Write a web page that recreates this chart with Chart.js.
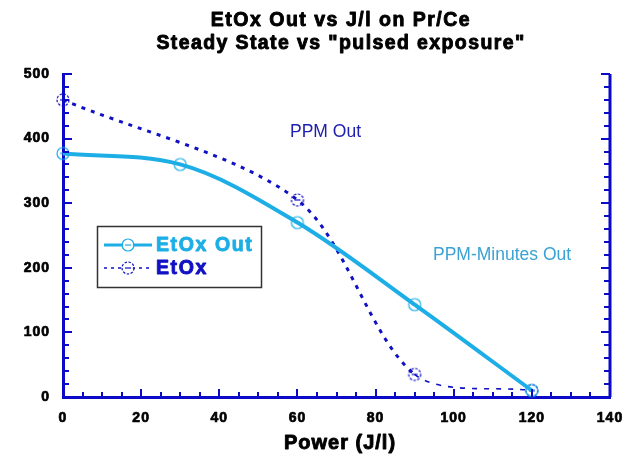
<!DOCTYPE html>
<html>
<head>
<meta charset="utf-8">
<script src="https://cdn.jsdelivr.net/npm/chart.js@4"></script>
<style>
  html, body { margin: 0; padding: 0; background: #fff; }
  #wrap { width: 629px; height: 454px; }
</style>
</head>
<body>
<div id="wrap"><canvas id="c" width="629" height="454"></canvas></div>
<script>
// Power (J/l) and EtOx readings
const powerSteady = [0, 30, 60, 90, 120];
const etoxOut = [377, 360, 270, 143, 10];
const powerPulsed = [0, 60, 90, 120];
const etox = [460, 305, 35, 10];
const xTicks = [0, 20, 40, 60, 80, 100, 120, 140];
const yTicks = [0, 100, 200, 300, 400, 500];
const titleLines = ['EtOx Out vs J/l on Pr/Ce', 'Steady State vs "pulsed exposure"'];

const AXIS_BLUE = '#0a0ac8';
const LIGHT_BLUE = '#1eaee6';
const DARK_BLUE = '#1010c4';
const FONT = '"Liberation Sans", Arial, sans-serif';

// heavy text: bold face, thickened with a thin stroke of the same colour
function heavyText(ctx, text, x, y, size, color, spacing, weight) {
  ctx.save();
  ctx.font = 'bold ' + size + 'px ' + FONT;
  ctx.letterSpacing = spacing + 'px';
  ctx.fillStyle = color;
  ctx.strokeStyle = color;
  ctx.lineWidth = weight;
  ctx.lineJoin = 'round';
  ctx.strokeText(text, x, y);
  ctx.fillText(text, x, y);
  ctx.restore();
}

// circle marker with a short bar through it
function marker(color, dashed) {
  const s = 16, c = document.createElement('canvas');
  c.width = s; c.height = s;
  const g = c.getContext('2d');
  g.strokeStyle = color; g.lineWidth = 1.2;
  if (dashed) g.setLineDash([2.5, 1.5]);
  g.beginPath(); g.arc(s / 2, s / 2, 6, 0, Math.PI * 2); g.stroke();
  g.setLineDash([]);
  g.beginPath(); g.moveTo(s / 2 - 3, s / 2); g.lineTo(s / 2 + 3, s / 2); g.stroke();
  return c;
}
const mLight = marker(LIGHT_BLUE, false);
const mDark = marker(DARK_BLUE, true);

const toPts = (xs, ys) => xs.map((x, i) => ({ x, y: ys[i] }));

// Inside tick marks, right axis, tick labels, title, legend box and notes
const decor = {
  id: 'decor',
  afterDraw(chart) {
    const { ctx, chartArea: a, scales: { x, y } } = chart;
    ctx.save();
    ctx.strokeStyle = AXIS_BLUE;
    ctx.lineWidth = 2;
    ctx.beginPath();
    for (let v = 0; v <= 140; v += 5) {
      const px = Math.round(x.getPixelForValue(v));
      const len = v % 20 === 0 ? 8 : 5;
      ctx.moveTo(px, a.bottom); ctx.lineTo(px, a.bottom - len);
    }
    for (let v = 0; v <= 500; v += 20) {
      const py = Math.round(y.getPixelForValue(v));
      const len = v % 100 === 0 ? 9 : 6;
      ctx.moveTo(a.left, py); ctx.lineTo(a.left + len, py);
      ctx.moveTo(a.right, py); ctx.lineTo(a.right - len, py);
    }
    ctx.stroke();
    ctx.lineWidth = 3;
    ctx.beginPath();
    ctx.moveTo(a.right, a.top); ctx.lineTo(a.right, a.bottom);
    ctx.stroke();

    // tick labels
    ctx.textBaseline = 'middle';
    ctx.textAlign = 'center';
    x.ticks.forEach(t => heavyText(ctx, String(t.value), x.getPixelForValue(t.value), 418, 14, '#000', 1, 0.7));
    ctx.textAlign = 'right';
    y.ticks.forEach(t => heavyText(ctx, String(t.value), 50, y.getPixelForValue(t.value), 14, '#000', 1, 0.7));

    // axis title
    ctx.textAlign = 'center';
    heavyText(ctx, 'Power (J/l)', 340, 443, 20, '#000', 1, 0.9);

    // title
    const cx = 341;
    heavyText(ctx, titleLines[0], cx, 21, 19.5, '#000', 1.5, 0.9);
    heavyText(ctx, titleLines[1], cx, 44, 19.5, '#000', 1.4, 0.9);

    // notes
    ctx.font = '17.5px ' + FONT;
    ctx.textAlign = 'left';
    ctx.fillStyle = '#2020b0';
    ctx.fillText('PPM Out', 290, 132);
    ctx.fillStyle = '#3aa2d4';
    ctx.fillText('PPM-Minutes Out', 433, 255);

    // legend box
    const ds = chart.data.datasets;
    ctx.fillStyle = '#fff';
    ctx.fillRect(97, 226, 165, 62);
    ctx.strokeStyle = '#333';
    ctx.lineWidth = 1.5;
    ctx.strokeRect(97.5, 226.5, 164, 61);
    const rows = [245, 268];
    ds.forEach((d, i) => {
      const ry = rows[i];
      ctx.strokeStyle = d.borderColor;
      ctx.lineWidth = i === 0 ? 3 : 1.5;
      ctx.setLineDash(i === 0 ? [] : [3, 4]);
      ctx.beginPath(); ctx.moveTo(104, ry); ctx.lineTo(152, ry); ctx.stroke();
      ctx.setLineDash([]);
      ctx.fillStyle = '#fff';
      ctx.beginPath(); ctx.arc(128, ry, 5, 0, Math.PI * 2); ctx.fill();
      ctx.drawImage(d.pointStyle, 120, ry - 8);
      ctx.textAlign = 'left';
      heavyText(ctx, d.label, 156, ry + 1, 19.5, d.borderColor, 1.6, 0.9);
    });
    ctx.restore();
  }
};

new Chart(document.getElementById('c'), {
  type: 'line',
  data: {
    datasets: [
      {
        label: 'EtOx Out',
        data: toPts(powerSteady, etoxOut),
        borderColor: LIGHT_BLUE,
        borderWidth: 4,
        pointStyle: mLight,
        cubicInterpolationMode: 'monotone',
        clip: false
      },
      {
        label: 'EtOx',
        data: toPts(powerPulsed, etox),
        borderColor: DARK_BLUE,
        borderWidth: 3,
        borderDash: [4, 6],
        pointStyle: mDark,
        tension: 0.3,
        clip: false,
        segment: {
          borderWidth: c => (c.p0.parsed.x >= 90 ? 1.6 : undefined),
          borderDash: c => (c.p0.parsed.x >= 90 ? [5, 7] : undefined)
        }
      }
    ]
  },
  options: {
    responsive: false,
    animation: false,
    layout: { padding: { left: 0, right: 19, top: 74, bottom: 0 } },
    plugins: { legend: { display: false }, title: { display: false }, tooltip: { enabled: false } },
    scales: {
      x: {
        type: 'linear', min: 0, max: 140,
        afterBuildTicks: s => { s.ticks = xTicks.map(v => ({ value: v })); },
        afterFit: s => { s.height = 57; },
        grid: { display: false, drawTicks: false },
        border: { display: true, color: AXIS_BLUE, width: 3 },
        ticks: { display: false }
      },
      y: {
        type: 'linear', min: 0, max: 500,
        afterBuildTicks: s => { s.ticks = yTicks.map(v => ({ value: v })); },
        afterFit: s => { s.width = 63; },
        grid: { display: false, drawTicks: false },
        border: { display: true, color: AXIS_BLUE, width: 3 },
        ticks: { display: false }
      }
    }
  },
  plugins: [decor]
});
</script>
</body>
</html>
